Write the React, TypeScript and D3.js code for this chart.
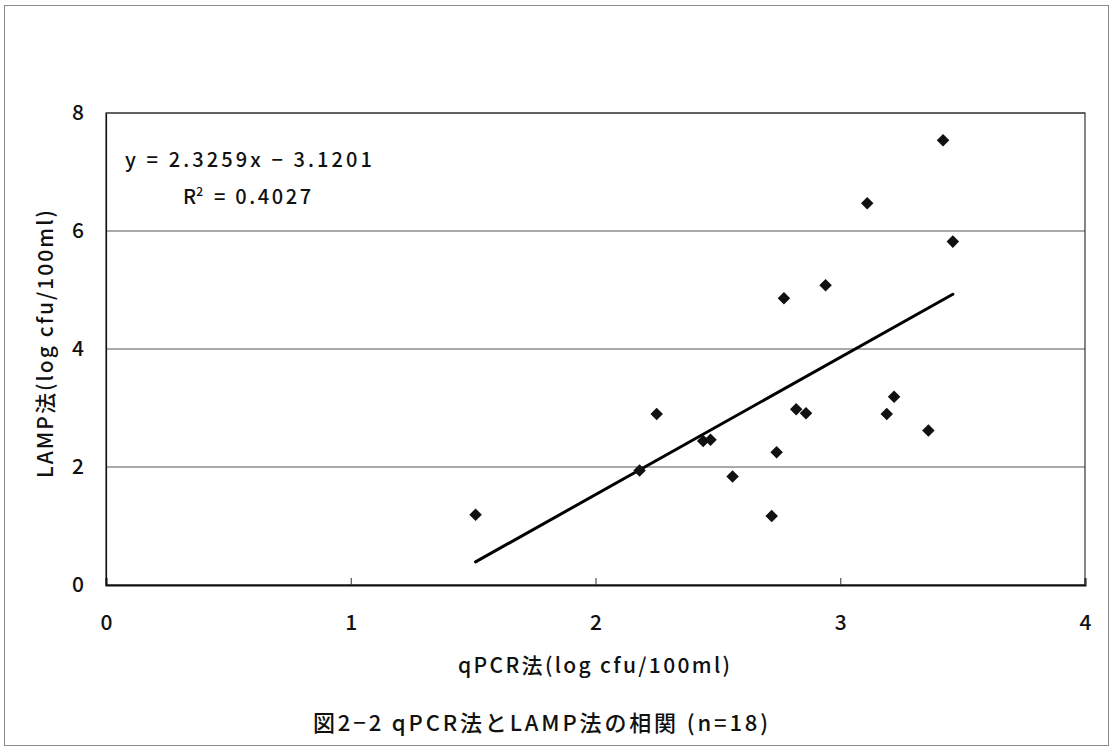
import { useEffect, useRef } from 'react';
import * as d3 from 'd3';

// qPCR法 (x) と LAMP法 (y), log cfu/100ml
const qpcrValues = [1.51, 2.18, 2.25, 2.44, 2.47, 2.56, 2.72, 2.74, 2.82, 2.86, 2.77, 2.94, 3.42, 3.11, 3.46, 3.22, 3.19, 3.36];
const lampValues = [1.19, 1.94, 2.90, 2.44, 2.46, 1.84, 1.17, 2.25, 2.98, 2.91, 4.86, 5.08, 7.54, 6.47, 5.82, 3.19, 2.90, 2.62];
const xTicks = [0, 1, 2, 3, 4];
const yTicks = [0, 2, 4, 6, 8];
const slope = 2.3259;
const intercept = -3.1201;
const rSquared = '0.4027';

const FONT = '"Noto Sans CJK JP", "Noto Sans", sans-serif';

function ScatterChart() {
  const svgRef = useRef<SVGSVGElement>(null);

  useEffect(() => {
    if (!svgRef.current) return;
    const width = 1113;
    const height = 753;
    const margin = { top: 113, right: 28, bottom: 168, left: 106 };
    const W = width - margin.left - margin.right;
    const H = height - margin.top - margin.bottom;

    const svg = d3.select(svgRef.current);
    svg.selectAll('*').remove();
    svg.attr('width', width).attr('height', height);

    const g = svg.append('g').attr('transform', `translate(${margin.left},${margin.top})`);

    const x = d3.scaleLinear().domain([0, 4]).range([0, W]);
    const y = d3.scaleLinear().domain([0, 8]).range([H, 0]);

    // gridlines
    g.append('g')
      .selectAll('line')
      .data(yTicks.filter(t => t > 0))
      .join('line')
      .attr('x1', 0).attr('x2', W)
      .attr('y1', d => y(d)).attr('y2', d => y(d))
      .attr('stroke', '#555').attr('stroke-width', 1);

    // plot frame
    g.append('rect')
      .attr('x', 0).attr('y', 0).attr('width', W).attr('height', H)
      .attr('fill', 'none').attr('stroke', '#333').attr('stroke-width', 1.2);

    const tickText = (s: d3.Selection<SVGGElement, unknown, null, undefined>) =>
      s.selectAll('text').attr('fill', '#111').attr('font-size', 21).attr('font-weight', 500)
        .attr('font-family', FONT);

    // x axis
    g.append('g').attr('transform', `translate(0,${H})`)
      .call(d3.axisBottom(x).tickValues(xTicks).tickSize(-7).tickPadding(30).tickFormat(d3.format('d')))
      .call(s => s.select('.domain').attr('stroke', '#111').attr('stroke-width', 2))
      .call(s => s.selectAll('.tick line').attr('stroke', '#333'))
      .call(tickText);

    // y axis
    g.append('g')
      .call(d3.axisLeft(y).tickValues(yTicks).tickSize(0).tickPadding(22).tickFormat(d3.format('d')))
      .call(s => s.select('.domain').attr('stroke', '#111').attr('stroke-width', 1.2))
      .call(tickText);

    // trendline
    const xExt = d3.extent(qpcrValues) as [number, number];
    g.append('line')
      .attr('x1', x(xExt[0])).attr('y1', y(slope * xExt[0] + intercept))
      .attr('x2', x(xExt[1])).attr('y2', y(slope * xExt[1] + intercept))
      .attr('stroke', '#000').attr('stroke-width', 3).attr('stroke-linecap', 'round');

    // points
    const diamond = d3.symbol().type(d3.symbolDiamond2).size(100);
    g.append('g')
      .selectAll('path')
      .data(qpcrValues.map((v, i) => [v, lampValues[i]]))
      .join('path')
      .attr('d', diamond)
      .attr('transform', d => `translate(${x(d[0])},${y(d[1])})`)
      .attr('fill', '#111');

    // equation
    g.append('text')
      .attr('x', 19).attr('y', 54)
      .attr('font-size', 20).attr('font-weight', 500).attr('font-family', FONT).attr('fill', '#111')
      .attr('textLength', 247).attr('lengthAdjust', 'spacing')
      .text(`y = ${slope}x − ${Math.abs(intercept)}`);
    const r2 = g.append('text')
      .attr('x', 77).attr('y', 91)
      .attr('font-size', 20).attr('font-weight', 500).attr('font-family', FONT).attr('fill', '#111');
    r2.append('tspan').text('R');
    r2.append('tspan').attr('dy', -8).attr('font-size', 12).text('2');
    r2.append('tspan').attr('dy', 8).attr('dx', 4).attr('letter-spacing', 2.6).text(` = ${rSquared}`);

    // axis titles
    svg.append('text')
      .attr('x', 458).attr('y', 673)
      .attr('font-size', 21).attr('font-weight', 500).attr('font-family', FONT).attr('fill', '#111')
      .attr('textLength', 272).attr('lengthAdjust', 'spacing')
      .text('qPCR法(log cfu/100ml)');
    svg.append('text')
      .attr('transform', `translate(53,478) rotate(-90)`)
      .attr('font-size', 21).attr('font-weight', 500).attr('font-family', FONT).attr('fill', '#111')
      .attr('textLength', 268).attr('lengthAdjust', 'spacing')
      .text('LAMP法(log cfu/100ml)');

    // caption
    svg.append('text')
      .attr('x', 313).attr('y', 731)
      .attr('font-size', 22).attr('font-weight', 500).attr('font-family', FONT).attr('fill', '#111')
      .attr('textLength', 455).attr('lengthAdjust', 'spacing')
      .text('図2−2 qPCR法とLAMP法の相関 (n=18)');
  }, []);

  return <svg ref={svgRef} style={{ display: 'block' }} />;
}

export default function App() {
  return (
    <div style={{ width: 1113, height: 753, boxSizing: 'border-box', margin: -8, background: 'white' }}>
      <div style={{ position: 'absolute', left: 4, top: 5, width: 1105, height: 741, border: '1px solid #8a8a8a', boxSizing: 'border-box' }} />
      <ScatterChart />
    </div>
  );
}
